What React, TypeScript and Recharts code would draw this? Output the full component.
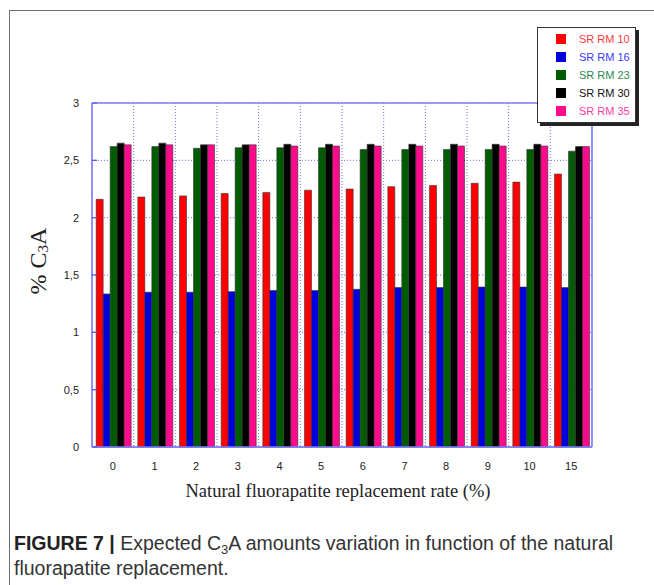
import React from 'react';
import { BarChart, Bar, XAxis, YAxis, CartesianGrid, Legend } from 'recharts';

const categories = ['0', '1', '2', '3', '4', '5', '6', '7', '8', '9', '10', '15'];
const srRm10 = [2.16, 2.18, 2.19, 2.21, 2.22, 2.24, 2.25, 2.27, 2.28, 2.3, 2.31, 2.38];
const srRm16 = [1.335, 1.35, 1.35, 1.355, 1.365, 1.365, 1.375, 1.39, 1.39, 1.395, 1.395, 1.39];
const srRm23 = [2.62, 2.62, 2.605, 2.61, 2.61, 2.61, 2.595, 2.595, 2.595, 2.595, 2.595, 2.58];
const srRm30 = [2.65, 2.65, 2.635, 2.635, 2.64, 2.64, 2.64, 2.64, 2.64, 2.64, 2.64, 2.62];
const srRm35 = [2.635, 2.635, 2.635, 2.635, 2.625, 2.625, 2.625, 2.625, 2.625, 2.625, 2.625, 2.62];
const seriesNames = ['SR RM 10', 'SR RM 16', 'SR RM 23', 'SR RM 30', 'SR RM 35'];
const seriesKeys = ['rm10', 'rm16', 'rm23', 'rm30', 'rm35'];
const yTicks = [0, 0.5, 1, 1.5, 2, 2.5, 3];

const barColors = ['#ff0000', '#0000dd', '#005c00', '#000000', '#ff0a8a'];
const legendTextColors = ['#ff3b3b', '#3b3bff', '#2a8a50', '#111111', '#ff3d9e'];
const GRID_BLUE = '#6e6eff';

const seriesValues = [srRm10, srRm16, srRm23, srRm30, srRm35];
const data = categories.map((cat, i) => {
  const row: Record<string, string | number> = { cat };
  seriesKeys.forEach((k, s) => {
    row[k] = seriesValues[s][i];
  });
  return row;
});

const fmt = (v: number) => String(v).replace('.', ',');

const renderLegend = () => (
  <div
    style={{
      width: 99,
      height: 96,
      boxSizing: 'border-box',
      border: '1px solid #333',
      boxShadow: '3px 3px 0 #222',
      background: '#fff',
      paddingTop: 2,
    }}
  >
    {seriesNames.map((name, i) => (
      <div key={name} style={{ display: 'flex', alignItems: 'center', height: 18 }}>
        <span
          style={{
            display: 'inline-block',
            width: 10,
            height: 10,
            marginLeft: 18,
            background: barColors[i],
          }}
        />
        <span
          style={{
            marginLeft: 13,
            fontFamily: '"Liberation Sans", Arial, sans-serif',
            fontSize: 11,
            color: legendTextColors[i],
          }}
        >
          {name}
        </span>
      </div>
    ))}
  </div>
);

const renderXLabel = (props: any) => {
  const vb = props.viewBox;
  return (
    <text
      x={vb.x + vb.width / 2 - 4}
      y={vb.y + 50}
      textAnchor="middle"
      fontFamily='"Liberation Serif", "Times New Roman", serif'
      fontSize={18.5}
      fill="#222"
    >
      Natural fluorapatite replacement rate (%)
    </text>
  );
};

const renderYLabel = (props: any) => {
  const vb = props.viewBox;
  const cx = vb.x + 6;
  const cy = vb.y + 158;
  return (
    <text
      x={cx}
      y={cy}
      transform={`rotate(-90 ${cx} ${cy})`}
      textAnchor="middle"
      dominantBaseline="central"
      fontFamily='"Liberation Serif", "Times New Roman", serif'
      fontSize={24}
      fill="#222"
    >
      % C
      <tspan fontSize={15} dy={5}>3</tspan>
      <tspan dy={-5}>A</tspan>
    </text>
  );
};

export default function App() {
  return (
    <div style={{ position: 'absolute', left: 0, top: 0, width: 654, height: 585, background: '#fff' }}>
      <div
        style={{
          position: 'absolute',
          left: 9,
          top: 10,
          right: 0,
          bottom: 0,
          borderLeft: '1px solid #707070',
          borderTop: '1px solid #707070',
        }}
      />
      <div style={{ position: 'absolute', left: 0, top: 0 }}>
        <BarChart
          width={654}
          height={585}
          data={data}
          margin={{ top: 103, right: 62, bottom: 78, left: 32 }}
          barCategoryGap="10%"
          barGap={0}
        >
          <CartesianGrid
            yAxisId="left"
            stroke={GRID_BLUE}
            strokeDasharray="1 2"
            verticalCoordinatesGenerator={({ offset }: any) =>
              categories.slice(1).map((_, i) => offset.left + ((i + 1) * offset.width) / categories.length)
            }
          />
          <CartesianGrid
            yAxisId="left"
            stroke="#8080ff"
            strokeWidth={1.3}
            verticalCoordinatesGenerator={({ offset }: any) => [offset.left, offset.left + offset.width]}
            horizontalCoordinatesGenerator={({ offset }: any) => [offset.top, offset.top + offset.height]}
          />
          <XAxis
            dataKey="cat"
            tickLine={false}
            axisLine={{ stroke: '#8080ff', strokeWidth: 1.3 }}
            tickSize={0}
            tickMargin={15}
            height={60}
            interval={0}
            tick={{ fill: '#222', fontSize: 11, fontFamily: '"Liberation Sans", Arial, sans-serif' }}
            label={renderXLabel}
          />
          <YAxis
            yAxisId="left"
            domain={[0, 3]}
            ticks={yTicks}
            interval={0}
            width={60}
            tickFormatter={fmt}
            axisLine={{ stroke: '#8080ff', strokeWidth: 1.3 }}
            tickLine={{ stroke: '#5a5aff', strokeWidth: 1.3 }}
            tickSize={-5}
            tickMargin={18}
            tick={{ fill: '#222', fontSize: 11, fontFamily: '"Liberation Sans", Arial, sans-serif' }}
            label={renderYLabel}
          />
          <YAxis
            yAxisId="right"
            orientation="right"
            mirror
            domain={[0, 3]}
            ticks={yTicks}
            interval={0}
            width={10}
            tick={false}
            axisLine={{ stroke: '#8080ff', strokeWidth: 1.3 }}
            tickLine={{ stroke: '#5a5aff', strokeWidth: 1.3 }}
            tickSize={5}
          />
          <Legend
            layout="vertical"
            align="center"
            verticalAlign="middle"
            wrapperStyle={{ left: 537, top: 27, width: 99, height: 96 }}
            content={renderLegend}
          />
          {seriesKeys.map((k, i) => (
            <Bar
              key={k}
              yAxisId="left"
              dataKey={k}
              name={seriesNames[i]}
              fill={barColors[i]}
              stroke="#333"
              strokeWidth={0.6}
              isAnimationActive={false}
            />
          ))}
        </BarChart>
      </div>
      <div
        style={{
          position: 'absolute',
          left: 14,
          top: 531,
          width: 636,
          fontFamily: '"Liberation Sans", Arial, sans-serif',
          fontSize: 19.5,
          lineHeight: '25px',
          color: '#333',
          whiteSpace: 'nowrap',
        }}
      >
        <b style={{ color: '#222' }}>FIGURE 7 |</b> Expected C
        <sub style={{ fontSize: 13, verticalAlign: '-4px', lineHeight: 0 }}>3</sub>A amounts variation in function of the natural
        <br />
        fluorapatite replacement.
      </div>
    </div>
  );
}
